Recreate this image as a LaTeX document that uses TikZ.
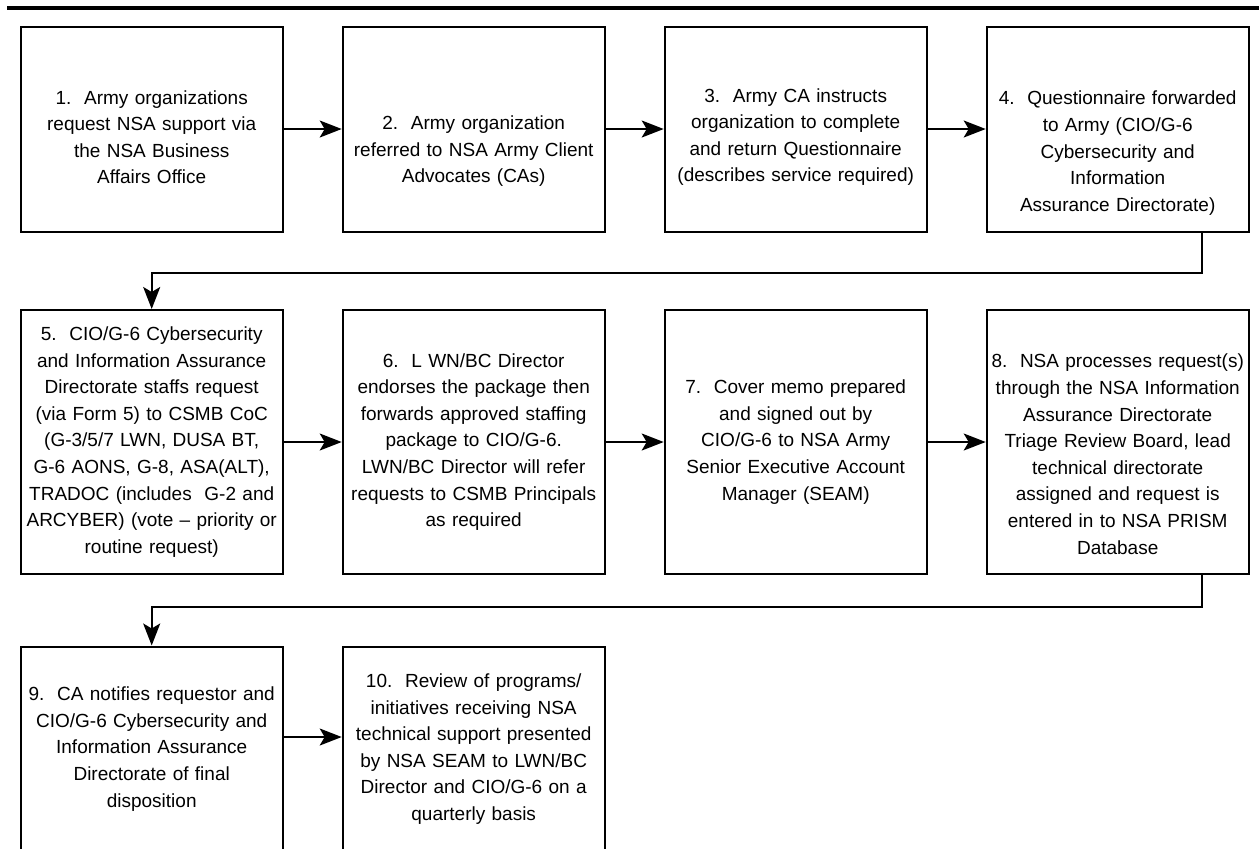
\documentclass[tikz,border=0pt]{standalone}
\usepackage{fontspec}
\setmainfont{Liberation Sans}
\usetikzlibrary{arrows.meta,positioning}
\hyphenpenalty=10000

\tikzset{
  stepbox/.style={draw, line width=1pt, rectangle, minimum width=131pt,
    text width=131pt, align=center, inner sep=0pt,
    font=\fontsize{9.5}{13.3}\selectfont},
  rowone/.style={stepbox, minimum height=102.5pt},
  rowtwo/.style={stepbox, minimum height=132pt},
  lowtext/.style={text height=#1},
  flow/.style={line width=1pt, -{Stealth[length=11pt,width=8.5pt,inset=2.5pt]}},
}

\begin{document}
\begin{tikzpicture}[x=0.5pt, y=-0.5pt, node distance=29pt]
    \useasboundingbox (0,0) rectangle (1259,848);

    % rule across the top
    \draw[line width=2pt] (7,8) -- (1259,8);

    % first row
    \node[rowone, lowtext=15pt] (b1) at (151.7,129) {1.\ \ Army organizations\\request NSA support via\\the NSA Business\\Affairs Office};
    \node[rowone, lowtext=29pt, right=of b1] (b2) {2.\ \ Army organization\\referred to NSA Army Client\\Advocates (CAs)};
    \node[rowone, lowtext=15pt, right=of b2] (b3) {3.\ \ Army CA instructs\\organization to complete\\and return Questionnaire\\(describes service required)};
    \node[rowone, lowtext=31pt, right=of b3] (b4) {4.\ \ Questionnaire forwarded\\to Army (CIO/G-6\\Cybersecurity and\\Information\\Assurance Directorate)};

    % second row
    \node[rowtwo] (b5) at (151.7,442) {5.\ \ CIO/G-6 Cybersecurity\\and Information Assurance\\Directorate staffs request\\(via Form 5) to CSMB CoC\\(G-3/5/7 LWN, DUSA BT,\\G-6 AONS, G-8, ASA(ALT),\\TRADOC (includes\ \ G-2 and\\ARCYBER) (vote -- priority or\\routine request)};
    \node[rowtwo, right=of b5] (b6) {6.\ \ L WN/BC Director\\endorses the package then\\forwards approved staffing\\package to CIO/G-6.\\LWN/BC Director will refer\\requests to CSMB Principals\\as required};
    \node[rowtwo, right=of b6] (b7) {7.\ \ Cover memo prepared\\and signed out by\\CIO/G-6 to NSA Army\\Senior Executive Account\\Manager (SEAM)};
    \node[rowtwo, lowtext=19pt, right=of b7] (b8) {8.\ \ NSA processes request(s)\\through the NSA Information\\Assurance Directorate\\Triage Review Board, lead\\technical directorate\\assigned and request is\\entered in to NSA PRISM\\Database};

    % third row (runs off the bottom of the page)
    \node[rowone] (b9) at (151.7,749) {9.\ \ CA notifies requestor and\\CIO/G-6 Cybersecurity and\\Information Assurance\\Directorate of final\\disposition};
    \node[rowone, right=of b9] (b10) {10.\ \ Review of programs/\\initiatives receiving NSA\\technical support presented\\by NSA SEAM to LWN/BC\\Director and CIO/G-6 on a\\quarterly basis};

    % connectors
    \draw[flow] (b1) -- (b2);
    \draw[flow] (b2) -- (b3);
    \draw[flow] (b3) -- (b4);
    \draw[flow] ([xshift=42pt]b4.south) -- ++(0,-20pt) -| (b5.north);
    \draw[flow] (b5) -- (b6);
    \draw[flow] (b6) -- (b7);
    \draw[flow] (b7) -- (b8);
    \draw[flow] ([xshift=42pt]b8.south) -- ++(0,-16pt) -| (b9.north);
    \draw[flow] ([yshift=6pt]b9.east) -- ([yshift=6pt]b10.west);
\end{tikzpicture}
\end{document}
